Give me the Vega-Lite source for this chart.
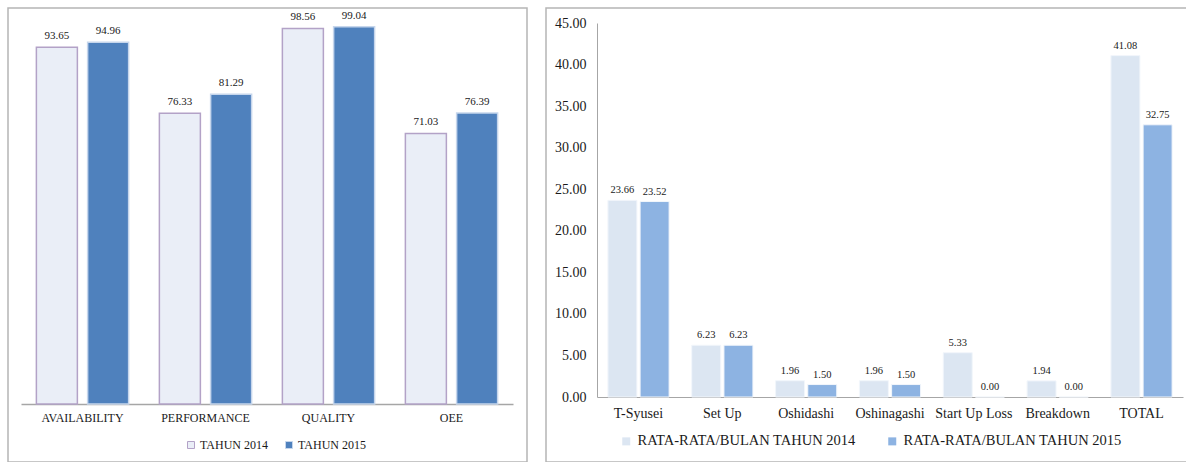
{
  "$schema": "https://vega.github.io/schema/vega-lite/v6.json",
  "padding": {"left": 7, "top": 7, "right": 0, "bottom": 0},
  "background": "white",
  "spacing": 17,
  "resolve": {
    "scale": {"color": "independent", "stroke": "independent", "xOffset": "independent", "x": "independent", "y": "independent"},
    "legend": {"color": "independent", "stroke": "independent"}
  },
  "config": {
    "font": "Liberation Serif",
    "text": {"font": "Liberation Serif"},
    "view": {"stroke": "#b5b5b5", "strokeWidth": 1.5},
    "axis": {"grid": false, "labelFont": "Liberation Serif"},
    "legend": {"labelFont": "Liberation Serif"}
  },
  "datasets": {
    "oee": [
      {"metric": "AVAILABILITY", "year": "TAHUN 2014", "value": 93.65},
      {"metric": "AVAILABILITY", "year": "TAHUN 2015", "value": 94.96},
      {"metric": "PERFORMANCE", "year": "TAHUN 2014", "value": 76.33},
      {"metric": "PERFORMANCE", "year": "TAHUN 2015", "value": 81.29},
      {"metric": "QUALITY", "year": "TAHUN 2014", "value": 98.56},
      {"metric": "QUALITY", "year": "TAHUN 2015", "value": 99.04},
      {"metric": "OEE", "year": "TAHUN 2014", "value": 71.03},
      {"metric": "OEE", "year": "TAHUN 2015", "value": 76.39}
    ],
    "loss": [
      {"cat": "T-Syusei", "series": "RATA-RATA/BULAN TAHUN 2014", "value": 23.66},
      {"cat": "T-Syusei", "series": "RATA-RATA/BULAN TAHUN 2015", "value": 23.52},
      {"cat": "Set Up", "series": "RATA-RATA/BULAN TAHUN 2014", "value": 6.23},
      {"cat": "Set Up", "series": "RATA-RATA/BULAN TAHUN 2015", "value": 6.23},
      {"cat": "Oshidashi", "series": "RATA-RATA/BULAN TAHUN 2014", "value": 1.96},
      {"cat": "Oshidashi", "series": "RATA-RATA/BULAN TAHUN 2015", "value": 1.50},
      {"cat": "Oshinagashi", "series": "RATA-RATA/BULAN TAHUN 2014", "value": 1.96},
      {"cat": "Oshinagashi", "series": "RATA-RATA/BULAN TAHUN 2015", "value": 1.50},
      {"cat": "Start Up Loss", "series": "RATA-RATA/BULAN TAHUN 2014", "value": 5.33},
      {"cat": "Start Up Loss", "series": "RATA-RATA/BULAN TAHUN 2015", "value": 0.00},
      {"cat": "Breakdown", "series": "RATA-RATA/BULAN TAHUN 2014", "value": 1.94},
      {"cat": "Breakdown", "series": "RATA-RATA/BULAN TAHUN 2015", "value": 0.00},
      {"cat": "TOTAL", "series": "RATA-RATA/BULAN TAHUN 2014", "value": 41.08},
      {"cat": "TOTAL", "series": "RATA-RATA/BULAN TAHUN 2015", "value": 32.75}
    ]
  },
  "hconcat": [
    {
      "width": 519,
      "height": 454,
      "data": {"name": "oee"},
      "encoding": {
        "x": {
          "field": "metric", "type": "nominal",
          "sort": ["AVAILABILITY", "PERFORMANCE", "QUALITY", "OEE"],
          "scale": {"range": [13, 505], "paddingInner": 0.25, "paddingOuter": 0.125},
          "axis": {
            "orient": "bottom", "offset": -58, "title": null, "labelAngle": 0,
            "ticks": false, "domainColor": "#a6a6a6", "domainWidth": 1.5,
            "labelFont": "Liberation Serif", "labelFontSize": 12, "labelColor": "#1a1a1a", "labelPadding": 8
          }
        },
        "xOffset": {"field": "year", "type": "nominal", "scale": {"paddingInner": 0.2}},
        "y": {
          "field": "value", "type": "quantitative", "stack": null,
          "scale": {"domain": [0, 100], "range": [396, 15], "nice": false},
          "axis": null
        }
      },
      "layer": [
        {
          "mark": {"type": "bar", "strokeWidth": 1.5},
          "encoding": {
            "color": {
              "field": "year", "type": "nominal",
              "scale": {"domain": ["TAHUN 2014", "TAHUN 2015"], "range": ["#eaeef7", "#4f81bd"]},
              "legend": {
                "orient": "none", "legendX": 177, "legendY": 431, "direction": "horizontal",
                "title": null, "symbolType": "square", "symbolSize": 49, "symbolStrokeWidth": 1,
                "labelFont": "Liberation Serif", "labelFontWeight": "normal",
                "labelFontSize": 12, "labelColor": "#1a1a1a", "labelOffset": 3, "columnPadding": 14, "padding": 0
              }
            },
            "stroke": {
              "field": "year", "type": "nominal",
              "scale": {"domain": ["TAHUN 2014", "TAHUN 2015"], "range": ["#b3a2c7", "#c6d6ec"]},
              "legend": {
                "orient": "none", "legendX": 177, "legendY": 431, "direction": "horizontal",
                "title": null, "symbolType": "square", "symbolSize": 49, "symbolStrokeWidth": 1,
                "labelFont": "Liberation Serif", "labelFontWeight": "normal",
                "labelFontSize": 12, "labelColor": "#1a1a1a", "labelOffset": 3, "columnPadding": 14, "padding": 0
              }
            }
          }
        },
        {
          "mark": {"type": "text", "baseline": "bottom", "dy": -6, "font": "Liberation Serif", "fontSize": 11, "color": "#1a1a1a"},
          "encoding": {"text": {"field": "value", "type": "quantitative", "format": ".2f"}}
        }
      ]
    },
    {
      "width": 642,
      "height": 454,
      "data": {"name": "loss"},
      "encoding": {
        "x": {
          "field": "cat", "type": "nominal",
          "sort": ["T-Syusei", "Set Up", "Oshidashi", "Oshinagashi", "Start Up Loss", "Breakdown", "TOTAL"],
          "scale": {"range": [51, 637], "paddingInner": 0.27, "paddingOuter": 0.13},
          "axis": {
            "orient": "bottom", "offset": -65, "title": null, "labelAngle": 0,
            "ticks": false, "domainColor": "#a6a6a6", "domainWidth": 1,
            "labelFont": "Liberation Serif", "labelFontSize": 14, "labelColor": "#1a1a1a", "labelPadding": 9
          }
        },
        "xOffset": {"field": "series", "type": "nominal", "scale": {"paddingInner": 0.1}},
        "y": {
          "field": "value", "type": "quantitative", "stack": null,
          "scale": {"domain": [0, 45], "range": [389, 15], "nice": false},
          "axis": {
            "orient": "left", "offset": -51, "title": null, "ticks": false,
            "values": [0, 5, 10, 15, 20, 25, 30, 35, 40, 45], "format": ".2f",
            "domainColor": "#a6a6a6", "domainWidth": 1,
            "labelFont": "Liberation Serif", "labelFontSize": 14, "labelColor": "#1a1a1a", "labelPadding": 11
          }
        }
      },
      "layer": [
        {
          "mark": {"type": "bar", "stroke": "#f2f6fb", "strokeWidth": 1},
          "encoding": {
            "color": {
              "field": "series", "type": "nominal",
              "scale": {"domain": ["RATA-RATA/BULAN TAHUN 2014", "RATA-RATA/BULAN TAHUN 2015"], "range": ["#dce6f2", "#8db3e2"]},
              "legend": {
                "orient": "none", "legendX": 73, "legendY": 426, "direction": "horizontal",
                "title": null, "symbolType": "square", "symbolSize": 64, "symbolStrokeWidth": 0,
                "labelFont": "Liberation Serif", "labelFontWeight": "normal",
                "labelFontSize": 14.5, "labelColor": "#1a1a1a", "labelOffset": 4, "columnPadding": 29,
                "labelLimit": 400, "padding": 0
              }
            }
          }
        },
        {
          "mark": {"type": "text", "baseline": "bottom", "dy": -5, "font": "Liberation Serif", "fontSize": 10.5, "color": "#1a1a1a"},
          "encoding": {"text": {"field": "value", "type": "quantitative", "format": ".2f"}}
        }
      ]
    }
  ]
}
